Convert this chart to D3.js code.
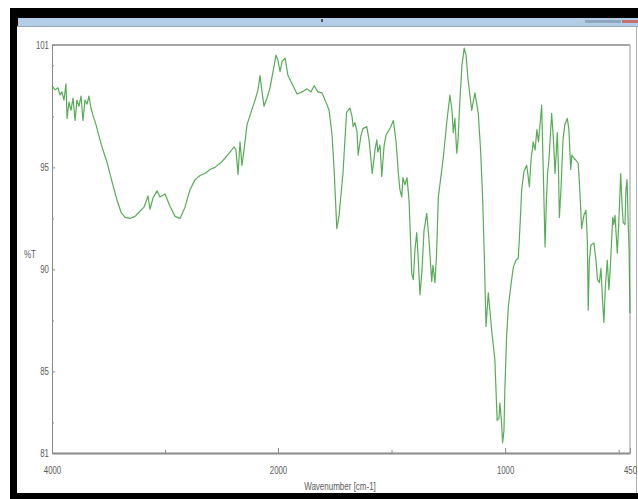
<!DOCTYPE html>
<html lang="en">
<head>
    <meta charset="UTF-8">
    <title>FTIR spectrum - %T vs wavenumber</title>
    <script src="https://d3js.org/d3.v7.min.js"></script>
    <style>
        body { margin: 0; background: #fff; }
        svg { display: block; }
        .tick-label, .axis-label {
            font-family: "Liberation Sans Narrow", "Arial Narrow", "Liberation Sans", sans-serif;
            font-size: 10px;
            fill: #5a5a5a;
        }
        .axis path, .axis line { stroke: #8a8a8a; }
    </style>
</head>
<body>
<div id="chart"></div>
<script>
    // spectrum (wavenumber in cm-1, transmittance in %)
    const wavenumber = [4000,3973,3947,3929,3912,3894,3876,3867,3850,3832,
        3814,3796,3779,3761,3743,3726,3708,3690,3673,3655,
        3637,3611,3575,3549,3513,3469,3425,3389,3354,3310,
        3265,3221,3186,3150,3133,3106,3071,3044,3000,2956,
        2911,2867,2823,2779,2734,2690,2646,2602,2557,2513,
        2469,2425,2389,2372,2354,2336,2319,2301,2274,2239,
        2203,2177,2159,2141,2124,2097,2071,2044,2018,2000,
        1991,1982,1969,1956,1938,1916,1894,1872,1855,1841,
        1824,1806,1789,1775,1762,1753,1741,1731,1714,1698,
        1683,1674,1669,1661,1652,1647,1635,1626,1609,1599,
        1585,1573,1565,1560,1551,1543,1533,1524,1507,1492,
        1480,1470,1463,1455,1450,1441,1432,1423,1411,1404,
        1397,1389,1381,1375,1366,1357,1345,1335,1323,1318,
        1309,1302,1294,1282,1272,1256,1243,1234,1228,1221,
        1213,1207,1199,1190,1180,1172,1163,1147,1133,1118,
        1108,1099,1091,1084,1074,1067,1059,1052,1045,1035,
        1027,1023,1016,1011,1005,1001,994,986,974,964,
        952,942,934,927,917,905,899,893,886,876,
        868,860,853,846,839,833,824,818,813,807,
        795,787,780,770,765,761,754,745,737,726,
        719,711,706,697,688,678,671,663,653,644,
        638,634,629,622,609,600,593,585,578,571,
        565,558,550,543,536,526,522,516,506,499,
        491,485,480,472,468,463,459,454,450];

    const transmittance = [99.0,98.8,98.9,98.55,98.7,98.3,99.1,97.4,98.2,97.8,
        98.4,97.3,98.3,98.0,98.5,97.3,98.3,98.1,98.5,97.9,
        97.55,97.1,96.35,95.85,95.25,94.3,93.4,92.8,92.55,92.5,
        92.6,92.85,93.05,93.6,92.95,93.5,93.85,93.55,93.7,93.1,
        92.6,92.5,93.05,93.9,94.4,94.6,94.7,94.9,95.0,95.2,
        95.45,95.75,96.0,95.85,94.65,96.25,95.1,95.85,97.1,97.7,
        98.3,98.8,99.5,98.7,98.0,98.4,98.9,99.7,100.5,100.25,
        99.7,100.2,100.35,99.5,99.1,98.6,98.7,98.85,98.7,99.0,
        98.7,98.65,98.2,97.8,96.6,94.9,92.0,92.65,94.7,97.7,
        97.9,97.5,97.0,97.2,96.75,95.6,96.55,96.9,97.0,96.35,
        94.7,95.85,96.35,95.75,96.1,94.55,96.05,96.6,96.9,97.3,
        96.25,94.7,93.9,93.55,94.5,94.15,94.5,93.4,89.8,89.5,
        90.95,91.8,90.2,88.75,89.95,91.9,92.75,91.45,89.4,90.2,
        89.35,90.7,93.55,94.6,95.5,97.3,98.55,97.8,96.7,97.4,
        95.7,96.35,98.3,100.0,100.85,100.5,99.3,97.8,98.65,97.65,
        95.85,93.55,90.45,87.2,88.85,88.0,87.0,86.3,85.55,82.6,
        82.7,83.45,82.6,81.5,82.1,84.1,86.55,88.15,89.25,90.1,
        90.45,90.55,92.2,93.9,94.8,95.1,94.6,94.05,95.35,96.25,
        95.85,96.85,96.25,97.1,98.05,95.35,91.1,93.4,94.7,95.35,
        97.65,96.35,94.7,96.7,94.9,92.55,93.9,96.35,97.1,97.4,
        96.85,94.9,95.6,95.45,95.35,95.2,93.9,92.0,92.65,92.9,
        91.45,88.0,90.45,91.2,91.3,90.45,89.5,89.35,90.05,88.5,
        87.4,89.25,90.45,89.0,90.25,92.55,92.2,92.65,90.8,92.4,
        94.7,93.15,92.3,92.2,93.9,94.4,92.65,90.95,87.85];

    // ticks
    const xMajorTicks = [4000, 2000, 1000, 450];
    const xMinorTicks = [3000, 1500, 500];
    const yMajorTicks = [101, 95, 90, 85, 81];
    const yMinorTicks = [100, 97.5, 92.5, 87.5, 82.5];

    const W = 638, H = 499;
    const plot = { left: 52, right: 630, top: 45, bottom: 453 };

    const svg = d3.select("#chart").append("svg")
        .attr("width", W)
        .attr("height", H);

    // window frame (screenshot look)
    svg.append("rect").attr("x", 10).attr("y", 8).attr("width", W - 10).attr("height", H - 8).attr("fill", "#000");
    svg.append("rect").attr("x", 18).attr("y", 18).attr("width", W - 18).attr("height", 8).attr("fill", "#b4cde6");
    svg.append("rect").attr("x", 17).attr("y", 26).attr("width", W - 17).attr("height", 467).attr("fill", "#fff");
    svg.append("line").attr("x1", 17).attr("x2", W).attr("y1", 26.5).attr("y2", 26.5).attr("stroke", "#9aa6b2");
    svg.append("line").attr("x1", 636.5).attr("x2", 636.5).attr("y1", 26).attr("y2", 493).attr("stroke", "#b0b0b0");
    svg.append("rect").attr("x", 585).attr("y", 20).attr("width", 36).attr("height", 3).attr("fill", "#8fa6bf");
    svg.append("rect").attr("x", 622).attr("y", 20).attr("width", 16).attr("height", 3).attr("fill", "#c8706a");
    svg.append("rect").attr("x", 321).attr("y", 19).attr("width", 2).attr("height", 3).attr("fill", "#555");

    // piecewise scale: 2x expansion below 2000 cm-1
    const x = d3.scaleLinear()
        .domain([4000, 2000, 450])
        .range([plot.left, 278, plot.right]);

    const y = d3.scaleLinear()
        .domain([81, 101])
        .range([plot.bottom, plot.top]);

    // top and right border
    svg.append("line").attr("x1", plot.left).attr("x2", plot.right).attr("y1", plot.top).attr("y2", plot.top)
        .attr("stroke", "#8a8a8a").attr("stroke-width", 1.5);
    svg.append("line").attr("x1", plot.right).attr("x2", plot.right).attr("y1", plot.top).attr("y2", plot.bottom)
        .attr("stroke", "#a8a8a8").attr("stroke-width", 1.2);

    // x axis
    const gx = svg.append("g")
        .attr("class", "axis")
        .attr("transform", `translate(0,${plot.bottom})`)
        .call(d3.axisBottom(x).tickValues(xMajorTicks).tickFormat(d3.format("d"))
            .tickSizeInner(-5).tickSizeOuter(0).tickPadding(13));
    gx.select(".domain").attr("stroke-width", 1.8);
    gx.selectAll("text").attr("class", "tick-label").attr("fill", null)
        .attr("transform", "scale(0.78,1.05)");

    svg.append("g")
        .attr("class", "axis")
        .attr("transform", `translate(0,${plot.bottom})`)
        .call(d3.axisBottom(x).tickValues(xMinorTicks).tickSize(-3).tickFormat(""))
        .select(".domain").remove();

    // y axis
    const gy = svg.append("g")
        .attr("class", "axis")
        .attr("transform", `translate(${plot.left},0)`)
        .call(d3.axisLeft(y).tickValues(yMajorTicks).tickSizeInner(-3).tickSizeOuter(0).tickPadding(4));
    gy.select(".domain").attr("stroke", "#a8a8a8");
    gy.selectAll("text").attr("class", "tick-label").attr("fill", null)
        .attr("transform", "scale(0.78,1.05)");

    svg.append("g")
        .attr("class", "axis")
        .attr("transform", `translate(${plot.left},0)`)
        .call(d3.axisLeft(y).tickValues(yMinorTicks).tickSize(-2).tickFormat(""))
        .select(".domain").remove();

    // axis titles
    svg.append("text")
        .attr("class", "axis-label")
        .attr("transform", "translate(340,490) scale(0.8,1.05)")
        .attr("text-anchor", "middle")
        .text("Wavenumber [cm-1]");

    svg.append("text")
        .attr("class", "axis-label")
        .attr("transform", "translate(30,258) scale(0.8,1.05)")
        .attr("text-anchor", "middle")
        .text("%T");

    // spectrum
    const points = d3.zip(wavenumber, transmittance);
    const line = d3.line()
        .x(d => x(d[0]))
        .y(d => y(d[1]));

    svg.append("path")
        .datum(points)
        .attr("fill", "none")
        .attr("stroke", "#3a9e3a")
        .attr("stroke-width", 1.2)
        .attr("stroke-opacity", 0.85)
        .attr("stroke-linejoin", "round")
        .attr("d", line);
</script>
</body>
</html>
